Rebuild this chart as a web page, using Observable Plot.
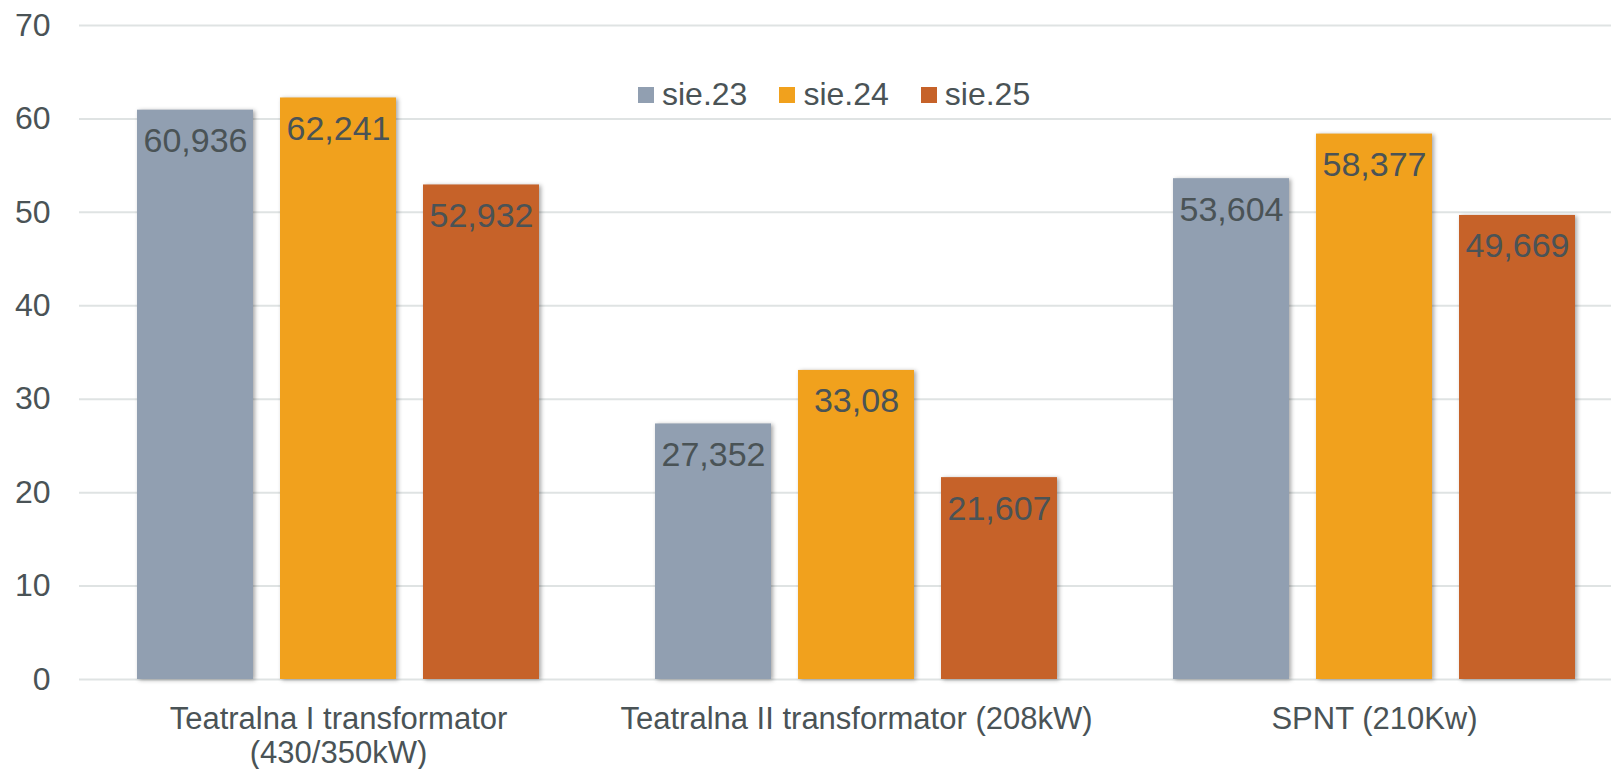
<!DOCTYPE html>
<html>
<head>
<meta charset="utf-8">
<script src="https://cdn.jsdelivr.net/npm/d3@7"></script>
<script src="https://cdn.jsdelivr.net/npm/@observablehq/plot@0.6"></script>
<style>
  html, body { margin: 0; padding: 0; background: #fff; }
  #wrap { position: relative; width: 1611px; height: 769px; font-family: "Liberation Sans", Arial, sans-serif; }
  #legend { position: absolute; left: 638px; top: 76px; display: flex; gap: 32px; font-size: 32px; color: #4a5356; }
  #legend .item { display: flex; align-items: center; gap: 8px; }
  #legend .sw { width: 16px; height: 16px; display: inline-block; }
  g[aria-label="bar"] rect { filter: drop-shadow(2px 1px 2px rgba(0,0,0,0.35)); }
</style>
</head>
<body>
<div id="wrap"></div>
<script>
const groups = ["Teatralna I transformator\n(430/350kW)", "Teatralna II transformator (208kW)", "SPNT (210Kw)"];
const series = ["sie.23", "sie.24", "sie.25"];
const values23 = [60.936, 27.352, 53.604];
const values24 = [62.241, 33.08, 58.377];
const values25 = [52.932, 21.607, 49.669];
const yTicks = [0, 10, 20, 30, 40, 50, 60, 70];
const colors = ["#919fb1", "#f1a11d", "#c66229"];

const seriesValues = [values23, values24, values25];
const data = [];
groups.forEach((g, gi) => {
  series.forEach((s, si) => {
    data.push({group: g, series: s, value: seriesValues[si][gi]});
  });
});
const fmt = v => String(v).replace(".", ",");

const chart = Plot.plot({
  width: 1611,
  height: 769,
  marginTop: 25,
  marginBottom: 90,
  marginLeft: 78,
  marginRight: 0,
  style: {fontFamily: "Liberation Sans, Arial, sans-serif", color: "#4a5356", background: "white"},
  fx: {domain: groups, range: [78, 1633.5], padding: 0, label: null},
  x: {domain: series, paddingInner: 0.1875, paddingOuter: 0.394, axis: null},
  y: {domain: [0, 70], ticks: yTicks, label: null},
  color: {domain: series, range: colors},
  marks: [
    Plot.gridY(yTicks, {stroke: "#dfe3e3", strokeOpacity: 1, strokeWidth: 2}),
    Plot.barY(data, {fx: "group", x: "series", y: "value", fill: "series"}),
    Plot.text(data, {fx: "group", x: "series", y: "value", text: d => fmt(d.value), dy: 31, fontSize: 34, fill: "#4a5356"}),
    Plot.axisY(yTicks, {tickSize: 0, tickPadding: 29, fontSize: 32, label: null, anchor: "left", fill: "#4a5356"}),
    Plot.axisFx({tickSize: 0, tickPadding: 25, fontSize: 31, lineHeight: 34/31, label: null, anchor: "bottom", fill: "#4a5356"})
  ]
});
const wrap = document.getElementById("wrap");
wrap.appendChild(chart);

const legend = document.createElement("div");
legend.id = "legend";
series.forEach((s, i) => {
  const item = document.createElement("div");
  item.className = "item";
  const sw = document.createElement("span");
  sw.className = "sw";
  sw.style.background = colors[i];
  const t = document.createElement("span");
  t.textContent = s;
  item.appendChild(sw);
  item.appendChild(t);
  legend.appendChild(item);
});
wrap.appendChild(legend);
</script>
</body>
</html>
